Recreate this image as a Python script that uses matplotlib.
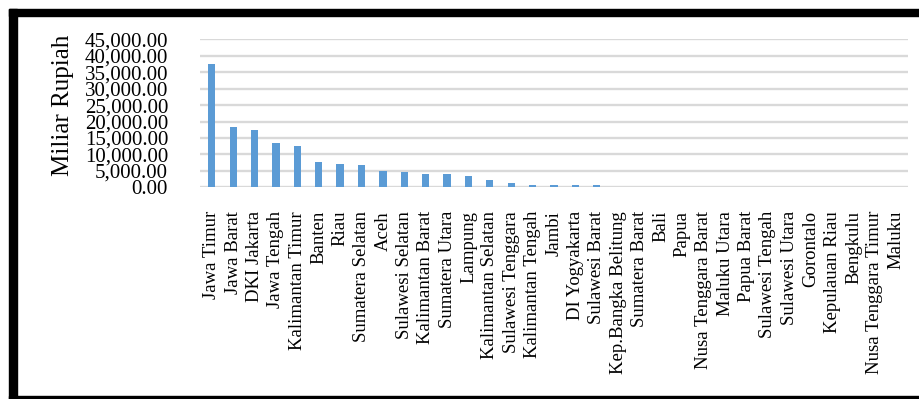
import matplotlib
matplotlib.use("Agg")
import matplotlib.pyplot as plt
from matplotlib.patches import Rectangle
from matplotlib.ticker import FuncFormatter

provinces = [
    "Jawa Timur", "Jawa Barat", "DKI Jakarta", "Jawa Tengah", "Kalimantan Timur",
    "Banten", "Riau", "Sumatera Selatan", "Aceh", "Sulawesi Selatan",
    "Kalimantan Barat", "Sumatera Utara", "Lampung", "Kalimantan Selatan",
    "Sulawesi Tenggara", "Kalimantan Tengah", "Jambi", "DI Yogyakarta",
    "Sulawesi Barat", "Kep.Bangka Belitung", "Sumatera Barat", "Bali", "Papua",
    "Nusa Tenggara Barat", "Maluku Utara", "Papua Barat", "Sulawesi Tengah",
    "Sulawesi Utara", "Gorontalo", "Kepulauan Riau", "Bengkulu",
    "Nusa Tenggara Timur", "Maluku",
]
values = [
    37600, 18300, 17400, 13400, 12500,
    7700, 7100, 6700, 5000, 4650,
    4000, 4000, 3400, 2200,
    1300, 700, 700, 700,
    700, 0, 0, 0, 0,
    0, 0, 0, 0,
    0, 0, 0, 0,
    0, 0,
]
y_ticks = [0, 5000, 10000, 15000, 20000, 25000, 30000, 35000, 40000, 45000]
y_label = "Miliar Rupiah"

serif = ["Liberation Serif", "DejaVu Serif"]

fig = plt.figure(figsize=(9.2, 3.99), dpi=100)
ax = fig.add_axes([0.2174, 0.5306, 0.987 - 0.2174, 0.9015 - 0.5306])

x = list(range(len(provinces)))
ax.bar(x, values, width=0.34, color="#5b9bd5", zorder=3)

ax.set_xlim(-0.55, len(provinces) - 0.45)
ax.set_ylim(0, 45000)
ax.set_yticks(y_ticks)
ax.yaxis.set_major_formatter(FuncFormatter(lambda v, p: f"{v:,.2f}"))
ax.grid(axis="y", color="#d9d9d9", linewidth=1.7, zorder=0)
ax.set_axisbelow(True)
for s in ax.spines.values():
    s.set_visible(False)

ax.tick_params(axis="y", length=0, pad=23)
ax.tick_params(axis="x", length=0, pad=17)
for lbl in ax.get_yticklabels():
    lbl.set_fontfamily(serif)
    lbl.set_fontsize(15)

ax.set_xticks(x)
ax.set_xticklabels(provinces, rotation=90, family=serif, fontsize=13.5)

ax.set_ylabel(y_label, family=serif, fontsize=18)
ax.yaxis.set_label_coords(-0.178, 0.556)

# black frame around the figure (left, top, bottom)
W, H = 920, 399
frame = [
    (9, 0, 8, H - 9),        # left
    (9, H - 16, W - 9, 7),   # top
    (9, 0, W - 9, 3),        # bottom
]
for (fx, fy, fw, fh) in frame:
    fig.patches.append(Rectangle((fx / W, fy / H), fw / W, fh / H,
                                 transform=fig.transFigure, color="black",
                                 zorder=10))

fig.savefig("out.png", dpi=100)
